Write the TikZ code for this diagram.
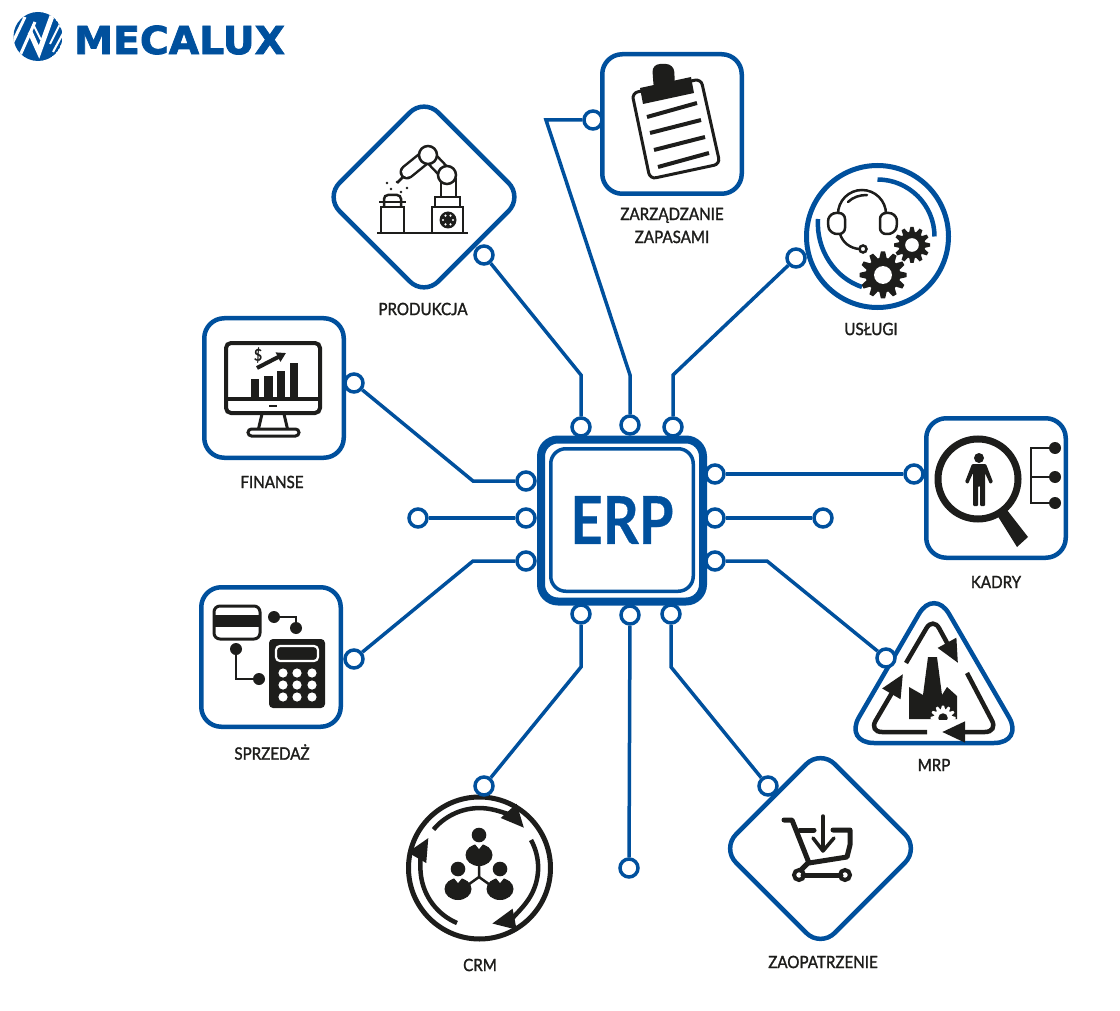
\documentclass[tikz,border=0pt]{standalone}
\usepackage{fontspec}
\usetikzlibrary{arrows.meta,scopes}
\newfontfamily\lblfont[FakeStretch=.89,FakeBold=1.5]{Lato}
\newfontfamily\erpfont[FakeStretch=.85,FakeBold=.5]{Lato Bold}
\newfontfamily\logofont[FakeStretch=1.02,FakeBold=2]{DejaVu Sans Bold}
\definecolor{mecablue}{HTML}{00509D}
\definecolor{ink}{HTML}{1D1D1B}
% x, y, outer radius, fill, hole
\newcommand{\cogwheel}[5]{%
    \fill[#4] (#1,#2) circle[radius=#3*.74];
    \foreach \a in {0,30,...,330}
        \fill[#4,rotate around={\a:(#1,#2)}] (#1-#3*.16,#2-#3*.7) -- (#1-#3*.09,#2-#3) -- (#1+#3*.09,#2-#3) -- (#1+#3*.16,#2-#3*.7) -- cycle;
    \fill[#5] (#1,#2) circle[radius=#3*.38];
}
% x, y of the head
\newcommand{\worker}[2]{%
    \fill[ink] (#1,#2) circle[radius=7.3];
    \fill[ink] (#1,#2+20) ellipse[x radius=13.5,y radius=11];
    \fill[white] (#1-4,#2+9) -- (#1+4,#2+9) -- (#1,#2+14) -- cycle;
}
\begin{document}
\begin{tikzpicture}[
    x=1pt,y=-1pt,
    >={Triangle[length=23pt,width=20pt]},
    frame/.style={rectangle,draw=mecablue,line width=4.5pt,minimum size=139.5pt,rounded corners=20pt},
    ring/.style={circle,line width=5pt,minimum size=142pt},
    pad/.style={circle,draw=mecablue,fill=white,line width=3.5pt,minimum size=18pt,inner sep=0pt},
    link/.style={draw=mecablue,line width=3.5pt,line join=miter},
    lbl/.style={text=ink,font=\lblfont\fontsize{17}{23}\selectfont,align=center,inner sep=0pt},
    icon/.style={draw=ink,line width=2.5pt},
    cycle arrow/.style={draw=ink,line width=4.5pt,rounded corners=13pt},
]
    \useasboundingbox (0,0) rectangle (1120,1011);

    % logo
    \begin{scope}
        \clip (38,36.5) circle[radius=24.5];
        \fill[mecablue] (38,36.5) circle[radius=24.5];
        {[draw=white,line width=3pt]
            \draw (12,44) -- (25,17);
            \draw (18,60) -- (35,22);
            \draw[line width=5pt,line join=miter] (30,32) -- (39,52) -- (52,16);
            \draw[line width=2pt] (33,24) -- (41,40);
            \draw[line width=2pt] (53,52) -- (67,26);
            \draw[line width=2pt] (50,44) -- (61,22);
        }
    \end{scope}
    \node[text=mecablue,font=\logofont\fontsize{38.5}{40}\selectfont,inner sep=0pt] (logo) at (179.5,40) {MECALUX};

    % processor
    \node[rectangle,draw=mecablue,line width=8pt,minimum size=162pt,rounded corners=17pt] (erp) at (622,520.5) {};
    \node[rectangle,draw=mecablue,line width=3.5pt,minimum size=142.5pt,rounded corners=15pt,text=mecablue,font=\erpfont\fontsize{66}{66}\selectfont,inner sep=0pt] (core) at (622,520) {ERP};

    % frames
    \node[frame] (zapasy) at (672,124) {};
    \node[frame] (finanse) at (274,388) {};
    \node[frame] (kadry) at (996,488) {};
    \node[frame] (sprzedaz) at (271,657) {};
    \node[frame,rotate=45] (produkcja) at (424,197) {};
    \node[frame,rotate=45] (zaopatrzenie) at (820.5,848.5) {};
    \node[ring,draw=mecablue] (uslugi) at (877.5,236.5) {};
    \node[ring,draw=ink] (crm) at (479.5,868) {};
    \draw[draw=mecablue,line width=4.5pt,rounded corners=30pt] (934,588) -- (1024,743) -- (844,743) -- cycle;

    % labels
    \node[lbl] (lprodukcja) at (423,309) {PRODUKCJA};
    \node[lbl] (lzapasy) at (672,225.5) {ZARZĄDZANIE\\ZAPASAMI};
    \node[lbl] (luslugi) at (871,329) {USŁUGI};
    \node[lbl] (lfinanse) at (272,482) {FINANSE};
    \node[lbl] (lkadry) at (996,582) {KADRY};
    \node[lbl] (lsprzedaz) at (272,752) {SPRZEDAŻ};
    \node[lbl] (lcrm) at (480,965) {CRM};
    \node[lbl] (lzaopatrzenie) at (823,962) {ZAOPATRZENIE};
    \node[lbl] (lmrp) at (934,765) {MRP};

    % robot
    {[icon]
        \draw (377,233) -- (468,233);
        \draw (381,233) -- (381,207) -- (404,207) -- (404,233);
        \draw (379,202) -- (406,202);
        \draw[rounded corners=4pt] (384,207) -- (384,195) -- (401,195) -- (401,207);
        \draw (432,233) -- (432,207) -- (463,207) -- (463,233);
        \draw (435,207) -- (435,197) -- (460,197) -- (460,207);
        \draw (441,197) -- (441,178);
        \draw (456,197) -- (456,178);
        \draw (403,177) -- (397,183);
    }
    \draw[ink,line width=15pt,line cap=round] (428,155) -- (407,172);
    \draw[white,line width=10pt,line cap=round] (428,155) -- (407,172);
    \draw[ink,line width=14pt] (428,155) -- (447,175);
    \draw[white,line width=9pt] (428,155) -- (447,175);
    \draw[icon,fill=white] (428,155) circle[radius=9];
    \draw[icon,fill=white] (447,175) circle[radius=9];
    \fill[ink] (448,220) circle[radius=8.5];
    \foreach \a in {0,60,...,300}
        \fill[white] (448,220) ++(\a:5) circle[radius=1.2];
    \foreach \x/\y in {387/183,391/189,401/192,407/188,397/182}
        \fill[ink] (\x,\y) circle[radius=1.3];

    % clipboard
    \draw[icon,line width=3pt,rounded corners=6pt] (632,93) -- (701,79) -- (720,164) -- (650,179) -- cycle;
    \fill[ink] (640,88) -- (691,77) -- (694,93) -- (643,104) -- cycle;
    \fill[ink,rounded corners=8pt] (654,92) -- (652,64) -- (674,64) -- (675,88) -- cycle;
    {[draw=ink,line width=4pt]
        \draw (647,117) -- (697,103);
        \draw (650,133) -- (701,120);
        \draw (654,150) -- (705,137);
        \draw (658,167) -- (709,153);
    }

    % headset and cogs
    \draw[draw=mecablue,line width=4.5pt] (877.5,179.5) arc[start angle=-90,end angle=0,radius=57];
    \draw[draw=mecablue,line width=4.5pt] (818,219) .. controls (816,250) and (835,278) .. (862,287);
    {[icon]
        \draw (838,214) arc[start angle=180,end angle=360,radius=24];
        \draw[line cap=round] (848,202) .. controls (853,197) and (860,195) .. (867,195);
        \draw[rounded corners=6pt] (845,213) -- (830,213) -- (827,224) -- (831,234) -- (845,234) -- cycle;
        \draw[rounded corners=6pt] (880,213) -- (895,213) -- (898,224) -- (894,234) -- (880,234) -- cycle;
        \draw (840,234) .. controls (843,243) and (850,248) .. (859,249);
        \draw (863,249) circle[radius=3.5];
    }
    \cogwheel{912}{245}{18}{ink}{white}
    \cogwheel{883}{275}{23.5}{ink}{white}

    % monitor
    \draw[icon,line width=4pt,rounded corners=5pt] (226,343) rectangle (320,413);
    \draw[draw=ink,line width=4pt] (226,399) -- (320,399);
    \draw[draw=ink,line width=2.5pt] (269,406) -- (277,406);
    {[draw=ink,line width=3pt]
        \draw (262,414) -- (258,431);
        \draw (284,414) -- (288,431);
        \draw[rounded corners=3.5pt,fill=white] (248,429) rectangle (299,436);
    }
    \foreach \x/\y/\w in {251/379/8,264/376/9,277/371/8,290/363/8}
        \fill[ink] (\x,\y) rectangle (\x+\w,399);
    \draw[draw=ink,line width=4pt,-{Triangle[length=9pt,width=10pt]}] (257,368) -- (286,353);
    \node[text=ink,font=\lblfont\fontsize{16}{16}\selectfont,inner sep=0pt] (dollar) at (258,355) {\$};

    % magnifier
    \draw[draw=ink,line width=7pt] (978,479) circle[radius=40];
    \fill[ink] (997,515) -- (1007,510) -- (1028,537) -- (1017,547) -- cycle;
    \fill[ink] (979,458) circle[radius=5];
    \fill[ink,rounded corners=1pt] (972,464) -- (986,464) -- (993,482) -- (990,484) -- (985,473) -- (985,506) -- (980,506) -- (980,486) -- (978,486) -- (978,506) -- (973,506) -- (973,473) -- (968,484) -- (965,482) -- cycle;
    \draw[draw=ink,line width=2.2pt] (1055,448) -- (1031,448) -- (1031,503) -- (1055,503);
    \draw[draw=ink,line width=2.2pt] (1031,477) -- (1055,477);
    \foreach \y in {448,477,503}
        \fill[ink] (1055,\y) circle[radius=6];

    % factory
    \begin{scope}[cycle arrow]
        \draw[->] (906,663) -- (933,617) -- (958,663);
        \draw[->] (967,673) -- (998,732) -- (942,732);
        \draw[->] (927,732) -- (869,732) -- (903,674);
    \end{scope}
    \fill[ink] (909,719) -- (909,687) -- (923,695) -- (928,657) -- (937,657) -- (942,695) -- (947,687) -- (957,696) -- (957,719) -- cycle;
    \begin{scope}
        \clip (925,703) rectangle (960,719);
        \cogwheel{943}{718}{12.5}{white}{ink}
    \end{scope}

    % card and calculator
    \begin{scope}[draw=ink,line width=2.2pt]
        \draw (274,617) -- (296,617) -- (296,628);
        \draw (236,649) -- (236,679) -- (259,679);
    \end{scope}
    \draw[icon,line width=3pt,rounded corners=6pt] (214,606) rectangle (260,639);
    \fill[ink] (214,615) rectangle (260,627);
    \fill[ink,rounded corners=4pt] (269,639) rectangle (325,708);
    \draw[draw=white,line width=2.2pt,rounded corners=4pt] (276,646) rectangle (318,661);
    \foreach \x in {283,297,312}
        \foreach \y in {673,685,697}
            \fill[white] (\x,\y) circle[radius=4.6];
    \foreach \x/\y in {274/617,296/628,236/649,259/679}
        \fill[ink] (\x,\y) circle[radius=6];

    % people
    \begin{scope}[cycle arrow]
        \draw[->] (433.5,829.5) arc[start angle=-140,end angle=-42,radius=60];
        \draw[->] (531,840) arc[start angle=-29,end angle=79,radius=57];
        \draw[->] (457,923) arc[start angle=113,end angle=210,radius=60];
    \end{scope}
    \draw[draw=ink,line width=2.5pt] (479,860) -- (479,877) -- (465,887);
    \draw[draw=ink,line width=2.5pt] (479,877) -- (493,887);
    \worker{479}{835}
    \worker{458}{869}
    \worker{500}{869}

    % cart
    {[draw=ink,line width=5pt,line cap=round,line join=round]
        \draw (784,820) -- (792,820) -- (809,863) -- (847,857) -- (850,845) -- (850,830) -- (833,830);
        \draw (800,830) -- (814,830);
        \draw (808,863) -- (801,870);
        \draw (803,875) -- (841,875);
        \draw[line width=3.5pt] (823,816) -- (823,850);
        \draw[line width=3.5pt] (813,838) -- (823,851) -- (834,838);
    }
    \draw[draw=ink,line width=4pt] (799,875) circle[radius=5];
    \draw[draw=ink,line width=4pt] (845,875) circle[radius=5];

    % pads
    \foreach \name/\x/\y in {
        ptopa/581/427,ptopb/630/425,ptopc/673/427,
        pbota/581/614,pbotb/630/615,pbotc/671/614,
        plefa/526/481,plefb/526/518,plefc/526/561,
        prigha/715/474,prighb/715/518,prighc/715/561,
        pfreel/418/518,pfreer/823/518,pfreeb/629/868,
        pprodukcja/484/255,pzapasy/593/120,puslugi/796/258,
        pfinanse/354/383,pkadry/914/474,pmrp/886/658,
        psprzedaz/354/659,pcrm/484/786,pzaopatrzenie/768/786}
        \node[pad] (\name) at (\x,\y) {};

    % bends
    \coordinate (bprodukcja) at (581,375);
    \coordinate (bzapasya) at (546,120);
    \coordinate (bzapasyb) at (630,375);
    \coordinate (buslugi) at (673,375);
    \coordinate (bfinanse) at (473,481);
    \coordinate (bsprzedaz) at (473,561);
    \coordinate (bmrp) at (767,561);
    \coordinate (bcrm) at (581,667);
    \coordinate (bzaopatrzenie) at (671,667);

    % connectors
    {[link]
        \draw (pprodukcja) -- (bprodukcja) -- (ptopa);
        \draw (pzapasy) -- (bzapasya) -- (bzapasyb) -- (ptopb);
        \draw (puslugi) -- (buslugi) -- (ptopc);
        \draw (pfinanse) -- (bfinanse) -- (plefa);
        \draw (pfreel) -- (plefb);
        \draw (psprzedaz) -- (bsprzedaz) -- (plefc);
        \draw (prigha) -- (pkadry);
        \draw (prighb) -- (pfreer);
        \draw (prighc) -- (bmrp) -- (pmrp);
        \draw (pbota) -- (bcrm) -- (pcrm);
        \draw (pbotb) -- (pfreeb);
        \draw (pbotc) -- (bzaopatrzenie) -- (pzaopatrzenie);
    }
\end{tikzpicture}
\end{document}
